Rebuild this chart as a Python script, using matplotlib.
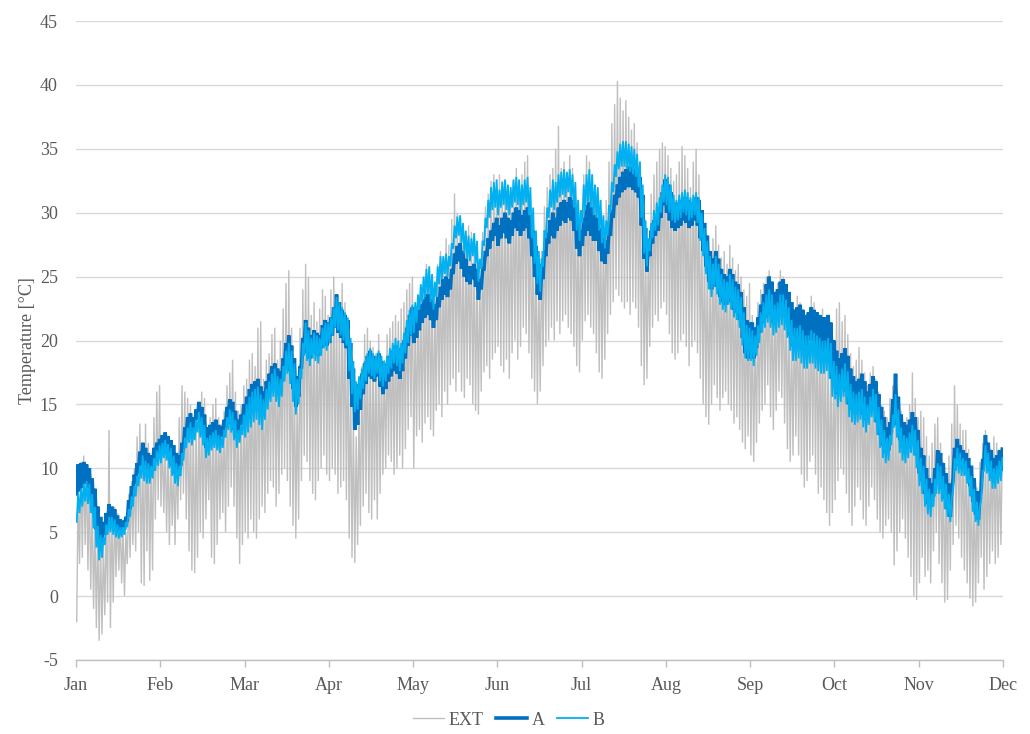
import numpy as np
import matplotlib
matplotlib.use("Agg")
import matplotlib.pyplot as plt

# Month labels along the time axis
months = ["Jan", "Feb", "Mar", "Apr", "May", "Jun",
          "Jul", "Aug", "Sep", "Oct", "Nov", "Dec"]
days_per_month = 30

# Outdoor air (EXT): daily minimum / maximum [°C], one row per month
ext_min = [
    -2.0, 2.5, 3.0, 4.0, 2.0, 0.5, -1.0, -2.5, -3.5, -3.0, -1.5, -0.5, -2.5, -0.5, 1.5, 2.0, 1.0, 0.0, 2.5, 3.0, 4.0, 3.5, 5.0, 1.0, 0.8, 3.5, 1.2, 2.0, 6.0, 7.5,
    7.0, 6.5, 5.0, 4.0, 5.5, 4.0, 6.0, 7.5, 8.0, 6.0, 3.5, 2.0, 1.8, 3.0, 5.0, 4.5, 6.0, 7.5, 3.0, 2.5, 4.0, 6.0, 6.5, 5.0, 7.0, 8.5, 7.0, 4.5, 2.5, 4.0,
    5.0, 4.5, 6.0, 5.0, 4.5, 6.0, 7.0, 6.5, 8.0, 9.0, 8.5, 7.0, 8.0, 9.5, 10.0, 9.0, 7.0, 5.5, 4.5, 6.0, 9.0, 11.0, 10.5, 9.0, 8.0, 7.5, 9.0, 10.0, 11.0, 9.5,
    9.0, 10.0, 9.5, 8.0, 8.5, 9.0, 7.5, 4.5, 3.0, 2.6, 4.0, 5.5, 7.0, 8.0, 6.5, 6.0, 7.5, 6.0, 8.0, 9.5, 10.0, 11.0, 10.5, 9.5, 10.0, 11.0, 10.0, 11.5, 13.0, 14.0,
    10.0, 12.5, 13.0, 12.0, 13.5, 14.0, 13.0, 12.5, 14.5, 15.0, 14.0, 16.0, 15.0, 16.5, 17.0, 16.0, 17.5, 16.0, 15.5, 17.0, 16.5, 15.0, 14.5, 14.2, 16.0, 17.5, 18.0, 17.0, 18.5, 19.0,
    19.5, 18.0, 17.5, 18.5, 17.0, 19.0, 20.0, 18.5, 19.5, 21.0, 20.5, 19.0, 17.0, 16.0, 15.0, 16.0, 18.0, 19.5, 20.0, 21.0, 20.0, 21.5, 20.5, 21.5, 22.0, 21.0, 20.5, 19.5, 18.0, 17.5,
    20.0, 21.5, 22.0, 21.0, 20.5, 19.0, 17.5, 17.0, 18.5, 20.5, 22.0, 23.0, 24.0, 23.5, 23.0, 22.5, 23.0, 22.0, 23.0, 22.5, 21.0, 18.0, 16.5, 17.0, 19.5, 21.0, 22.0, 21.5, 22.5, 23.0,
    22.0, 20.5, 19.0, 18.5, 19.0, 20.0, 20.5, 19.5, 18.0, 19.5, 20.0, 19.0, 17.0, 15.0, 14.0, 13.4, 15.0, 16.5, 15.5, 14.5, 15.5, 16.0, 15.0, 14.5, 13.5, 14.0, 13.0, 12.0, 11.5, 12.5,
    11.0, 10.5, 12.0, 13.5, 14.5, 15.0, 16.5, 14.0, 13.0, 14.5, 16.0, 15.5, 13.5, 11.5, 10.5, 11.0, 12.5, 11.0, 9.5, 8.5, 9.0, 10.5, 11.0, 9.5, 8.0, 8.5, 7.5, 6.5, 5.5, 6.5,
    7.5, 9.0, 10.0, 9.5, 8.0, 6.5, 5.5, 7.0, 8.5, 7.5, 6.0, 5.5, 7.0, 8.5, 7.5, 6.0, 5.0, 4.5, 5.5, 6.0, 5.0, 2.4, 3.5, 5.0, 6.0, 4.5, 3.0, 1.5, 0.0, -0.3,
    1.0, 3.0, 1.5, 2.0, 1.0, 3.5, 5.0, 2.5, 1.0, -0.5, -0.3, 2.0, 4.0, 5.5, 4.5, 3.0, 2.0, 1.0, -0.2, -0.8, -0.5, 1.0, 3.0, 0.5, 1.5, 2.5, 3.5, 2.5, 3.0, 4.0,
]
ext_max = [
    8.0, 10.5, 11.0, 10.0, 9.0, 7.5, 6.0, 5.5, 4.5, 4.0, 6.0, 13.0, 6.5, 7.0, 6.5, 6.0, 5.5, 5.0, 8.0, 9.0, 10.0, 12.5, 13.5, 12.0, 13.5, 12.0, 11.0, 14.0, 16.0, 16.5,
    12.5, 12.0, 11.5, 11.0, 10.5, 11.0, 14.0, 16.5, 16.0, 15.5, 15.0, 14.0, 13.5, 15.0, 16.0, 15.5, 13.0, 14.0, 15.0, 15.5, 14.0, 13.5, 14.5, 16.5, 17.5, 18.5, 16.0, 14.5, 15.0, 16.5,
    17.0, 18.5, 19.0, 18.0, 21.0, 21.5, 17.0, 18.5, 19.0, 20.5, 21.0, 18.5, 20.0, 22.5, 24.5, 25.5, 21.0, 17.5, 16.0, 21.0, 24.0, 26.0, 25.0, 22.0, 23.0, 21.5, 22.5, 24.0, 23.5, 22.0,
    24.0, 25.0, 23.5, 22.0, 24.5, 23.0, 21.0, 17.5, 14.0, 12.5, 15.0, 18.0, 20.5, 21.0, 20.0, 19.5, 19.0, 20.5, 18.0, 18.5, 20.5, 21.0, 21.5, 22.0, 21.5, 22.5, 23.0, 24.0, 24.5, 25.0,
    22.0, 23.5, 24.0, 25.0, 26.0, 25.5, 24.0, 23.0, 26.0, 27.0, 26.5, 28.0, 27.5, 29.5, 31.5, 30.0, 29.0, 27.5, 28.0, 29.0, 28.5, 27.0, 26.0, 25.0, 28.5, 30.5, 31.5, 32.5, 33.0, 32.0,
    33.0, 32.5, 31.5, 32.0, 31.0, 32.5, 33.5, 32.0, 33.0, 34.0, 34.5, 31.0, 28.5, 26.5, 25.0, 27.0, 30.5, 32.0, 33.0, 33.5, 35.0, 36.8, 33.5, 34.0, 33.0, 34.5, 33.5, 32.0, 30.0, 29.5,
    33.0, 34.5, 34.0, 33.0, 32.0, 31.5, 29.5, 29.0, 31.0, 34.0, 37.0, 38.5, 40.3, 39.0, 38.0, 38.8, 37.5, 36.5, 37.0, 35.5, 34.0, 31.0, 28.0, 27.5, 31.5, 33.0, 34.0, 35.0, 35.5, 35.2,
    34.5, 33.5, 32.5, 33.0, 34.0, 35.2, 34.5, 33.5, 32.0, 34.0, 35.0, 33.0, 30.0, 28.5, 27.0, 26.5, 28.0, 29.0, 27.5, 26.5, 27.0, 26.0, 27.5, 26.5, 25.5, 26.0, 25.0, 24.0, 23.5, 24.5,
    22.0, 21.0, 23.0, 24.0, 24.5, 25.0, 25.5, 24.0, 23.5, 24.5, 25.5, 25.0, 24.0, 22.5, 21.0, 22.5, 23.5, 23.0, 22.5, 21.0, 22.0, 23.5, 23.0, 22.0, 21.5, 22.5, 21.0, 20.0, 19.5, 18.0,
    22.5, 23.0, 21.5, 22.0, 20.5, 19.0, 18.0, 18.5, 19.5, 18.5, 17.5, 16.5, 17.5, 18.0, 17.0, 16.0, 15.0, 14.5, 14.0, 15.5, 16.5, 17.0, 15.0, 14.5, 13.5, 14.0, 15.0, 17.5, 15.5, 14.0,
    14.5, 14.0, 12.5, 11.0, 12.0, 13.5, 14.0, 12.0, 10.5, 9.5, 11.0, 13.5, 16.5, 15.0, 13.5, 13.0, 13.0, 11.5, 10.0, 9.0, 8.5, 10.5, 12.0, 13.0, 12.0, 11.5, 12.5, 12.0, 11.0, 11.5,
]

# Room A: daily minimum / maximum [°C]
a_min = [
    8.0, 8.2, 8.5, 8.8, 8.5, 7.6, 6.5, 5.2, 4.2, 4.0, 4.8, 5.5, 5.6, 5.4, 5.2, 5.0, 5.0, 5.2, 5.8, 6.8, 7.8, 8.8, 9.6, 10.2, 9.8, 9.6, 9.4, 9.8, 10.5, 10.8,
    11.2, 11.5, 11.3, 10.8, 10.2, 9.6, 9.4, 10.2, 11.5, 12.5, 12.8, 12.6, 13.0, 13.8, 13.2, 12.6, 11.6, 11.8, 12.2, 12.4, 12.2, 12.0, 12.5, 13.2, 13.8, 13.6, 13.0, 12.4, 12.8, 13.4,
    13.6, 14.0, 14.4, 14.8, 15.0, 14.6, 14.2, 15.0, 15.8, 16.4, 16.8, 16.4, 16.0, 16.8, 18.0, 18.6, 17.6, 16.2, 14.8, 15.6, 17.8, 19.6, 19.0, 18.6, 19.2, 19.0, 18.8, 19.4, 20.0, 19.6,
    19.8, 20.4, 21.0, 20.6, 20.2, 19.8, 19.4, 17.0, 14.8, 13.0, 13.4, 14.6, 15.8, 16.6, 17.2, 17.0, 16.8, 17.2, 16.4, 15.8, 16.2, 16.8, 17.2, 17.6, 17.4, 17.0, 17.6, 18.6, 19.6, 20.4,
    19.8, 20.2, 20.8, 21.4, 21.8, 22.0, 21.6, 21.0, 21.6, 22.6, 23.2, 23.6, 23.4, 24.0, 25.2, 26.0, 26.2, 25.6, 25.0, 24.6, 24.4, 24.8, 24.2, 23.2, 24.0, 25.6, 26.6, 27.2, 27.8, 28.2,
    27.4, 28.0, 28.4, 28.0, 27.6, 28.2, 28.8, 28.6, 28.2, 28.6, 28.8, 28.0, 26.6, 25.0, 23.6, 23.2, 24.8, 26.6, 27.6, 28.2, 28.0, 28.6, 29.0, 29.4, 29.2, 29.6, 29.4, 28.6, 27.2, 26.6,
    27.4, 28.2, 28.6, 28.2, 27.8, 27.8, 27.0, 26.2, 26.0, 26.8, 28.2, 29.6, 30.6, 31.2, 31.6, 31.8, 32.0, 32.0, 31.8, 31.6, 31.2, 29.0, 26.4, 25.4, 26.6, 27.6, 28.2, 28.6, 29.6, 30.6,
    30.0, 29.4, 28.8, 28.6, 28.8, 29.0, 29.4, 29.2, 28.8, 29.0, 29.4, 29.0, 28.0, 27.0, 25.8, 24.6, 24.0, 24.8, 24.2, 23.4, 23.0, 22.8, 23.4, 23.0, 22.4, 22.2, 21.6, 20.2, 19.0, 18.6,
    19.0, 18.6, 19.4, 20.6, 21.4, 21.8, 22.4, 22.0, 21.4, 21.6, 22.2, 22.4, 22.0, 21.4, 20.4, 19.6, 19.8, 20.2, 19.8, 19.4, 19.6, 20.0, 20.0, 19.6, 19.4, 19.0, 19.0, 19.2, 18.6, 17.0,
    16.4, 15.8, 16.2, 16.6, 16.0, 15.0, 14.6, 14.4, 14.6, 14.8, 14.2, 13.8, 14.4, 15.0, 14.6, 13.6, 12.6, 11.8, 11.2, 11.4, 12.8, 14.4, 13.4, 12.2, 11.6, 11.4, 11.8, 12.2, 12.0, 11.0,
    9.6, 9.0, 8.0, 7.2, 7.0, 7.8, 9.0, 9.0, 8.4, 7.6, 6.8, 6.2, 9.2, 10.6, 10.2, 10.0, 10.0, 9.6, 8.6, 7.4, 6.4, 6.0, 8.4, 10.6, 10.4, 9.8, 9.2, 9.2, 9.6, 9.8,
]
a_max = [
    10.3, 10.4, 10.5, 10.3, 10.0, 9.2, 8.4, 7.0, 6.2, 5.8, 6.5, 7.2, 7.0, 6.8, 6.3, 6.0, 5.9, 6.2, 7.5, 8.6, 9.5, 10.4, 11.3, 12.0, 11.6, 11.2, 11.0, 11.6, 12.0, 12.3,
    12.6, 12.8, 12.5, 12.2, 11.8, 11.2, 11.0, 12.0, 13.2, 14.0, 14.3, 14.0, 14.6, 15.2, 14.8, 14.2, 13.2, 13.4, 13.6, 13.8, 13.4, 13.3, 13.8, 14.8, 15.4, 15.2, 14.5, 13.8, 14.2, 15.0,
    15.6, 16.2, 16.6, 16.8, 17.0, 16.4, 16.0, 16.8, 17.4, 18.0, 18.2, 17.8, 17.6, 18.6, 19.8, 20.4, 19.6, 18.6, 17.2, 18.0, 20.2, 21.6, 21.0, 20.4, 20.8, 20.6, 20.4, 21.2, 21.6, 21.4,
    21.8, 22.6, 23.6, 23.0, 22.4, 22.0, 21.6, 19.8, 17.8, 16.0, 16.6, 17.4, 18.2, 18.8, 19.2, 18.8, 18.6, 19.0, 18.4, 17.8, 18.2, 18.8, 19.2, 19.6, 19.4, 19.2, 20.0, 21.0, 22.0, 22.6,
    22.0, 22.4, 22.8, 23.2, 23.6, 23.6, 23.2, 22.8, 23.4, 24.2, 24.8, 25.0, 24.8, 25.6, 26.8, 27.4, 27.6, 27.0, 26.4, 25.8, 25.8, 26.0, 25.6, 24.8, 25.6, 27.0, 28.0, 28.6, 29.2, 29.6,
    29.0, 29.6, 30.0, 29.6, 29.4, 30.0, 30.4, 30.2, 29.8, 30.2, 30.4, 29.8, 28.6, 27.4, 26.0, 25.4, 27.0, 28.4, 29.4, 30.0, 29.6, 30.4, 30.8, 31.0, 30.8, 31.2, 31.0, 30.4, 29.2, 28.6,
    29.6, 30.6, 30.8, 30.4, 29.8, 29.6, 28.8, 28.0, 27.8, 28.8, 30.2, 31.4, 32.2, 32.8, 33.2, 33.4, 33.6, 33.6, 33.4, 33.2, 32.8, 31.4, 28.8, 27.6, 28.6, 29.4, 29.8, 30.4, 31.6, 32.6,
    32.2, 31.6, 30.8, 30.4, 30.8, 31.0, 31.2, 31.0, 30.6, 30.8, 31.2, 31.0, 30.2, 29.2, 28.2, 27.0, 26.4, 27.0, 26.4, 25.6, 25.2, 25.0, 25.6, 25.2, 24.6, 24.4, 23.8, 22.6, 21.6, 21.4,
    21.4, 21.0, 21.8, 22.8, 23.6, 24.4, 25.0, 24.6, 23.8, 24.0, 24.6, 24.8, 24.4, 23.8, 23.0, 22.4, 22.6, 22.8, 22.4, 22.0, 22.2, 22.6, 22.4, 22.2, 22.0, 21.8, 21.8, 22.0, 21.4, 20.0,
    19.2, 18.6, 19.0, 19.4, 18.8, 17.8, 17.2, 16.8, 17.0, 17.4, 16.8, 16.0, 16.6, 17.2, 16.8, 15.8, 14.8, 14.0, 13.2, 13.6, 15.4, 17.4, 15.6, 14.2, 13.6, 13.4, 13.8, 14.4, 14.0, 13.0,
    11.6, 11.0, 10.0, 9.2, 8.8, 10.0, 11.4, 11.2, 10.4, 9.6, 8.8, 8.2, 11.6, 12.3, 11.8, 11.4, 11.2, 10.8, 10.2, 9.2, 8.2, 7.8, 10.6, 12.6, 12.0, 11.4, 10.8, 11.0, 11.4, 11.5,
]

# Room B: daily minimum / maximum [°C]
b_min = [
    5.8, 6.5, 7.0, 7.4, 7.2, 6.5, 5.3, 3.8, 2.8, 3.0, 4.0, 4.8, 5.0, 4.8, 4.6, 4.5, 4.6, 4.8, 5.4, 6.2, 7.0, 7.8, 8.6, 9.2, 9.0, 8.8, 8.8, 9.2, 9.8, 10.2,
    10.4, 10.8, 10.6, 10.0, 9.4, 8.8, 8.6, 9.4, 10.6, 11.6, 12.0, 11.8, 12.2, 12.8, 12.4, 11.8, 10.8, 11.0, 11.4, 11.6, 11.4, 11.2, 11.6, 12.4, 13.0, 12.8, 12.2, 11.6, 12.0, 12.6,
    12.4, 12.8, 13.2, 13.6, 13.8, 13.4, 13.0, 13.8, 14.6, 15.2, 15.6, 15.2, 14.8, 15.6, 16.8, 17.4, 16.6, 15.2, 14.2, 15.0, 17.0, 18.8, 18.4, 18.0, 18.6, 18.4, 18.2, 18.8, 19.4, 19.2,
    19.8, 20.4, 21.0, 20.8, 20.4, 20.0, 19.6, 17.6, 15.8, 14.4, 14.6, 15.4, 16.2, 16.8, 17.4, 17.2, 17.0, 17.4, 16.8, 16.4, 16.8, 17.4, 17.8, 18.2, 18.0, 17.6, 18.2, 19.0, 19.8, 20.4,
    20.6, 21.4, 22.4, 23.0, 23.4, 23.6, 23.0, 22.4, 23.4, 24.4, 24.8, 25.2, 25.0, 25.8, 27.2, 28.0, 28.2, 27.6, 26.8, 26.4, 26.2, 26.6, 26.0, 24.6, 25.6, 27.4, 28.8, 29.6, 30.2, 30.4,
    29.8, 30.4, 30.6, 30.2, 29.8, 30.4, 30.8, 30.6, 30.2, 30.6, 30.8, 29.8, 28.0, 26.0, 24.4, 23.8, 25.8, 28.0, 29.6, 30.4, 30.2, 30.8, 31.2, 31.4, 31.2, 31.6, 31.2, 30.4, 28.6, 27.8,
    29.2, 30.2, 30.8, 30.4, 29.8, 29.6, 28.6, 27.6, 27.2, 28.2, 30.0, 31.6, 32.8, 33.4, 33.6, 33.6, 33.4, 33.2, 33.0, 32.8, 32.0, 29.6, 26.8, 25.8, 27.0, 28.0, 28.6, 29.0, 30.0, 30.8,
    30.6, 30.0, 29.4, 29.2, 29.4, 29.6, 30.0, 29.8, 29.4, 29.6, 29.8, 29.2, 27.8, 26.6, 25.2, 24.0, 23.4, 24.2, 23.6, 22.8, 22.4, 22.2, 22.8, 22.4, 21.8, 21.6, 21.0, 19.6, 18.6, 18.4,
    18.4, 18.0, 18.8, 19.8, 20.6, 21.0, 21.4, 21.0, 20.4, 20.6, 21.0, 21.2, 20.8, 20.2, 19.2, 18.4, 18.4, 18.6, 18.2, 17.8, 17.8, 18.2, 18.2, 17.8, 17.6, 17.4, 17.4, 17.6, 17.0, 15.6,
    15.4, 14.8, 15.2, 15.6, 15.0, 14.0, 13.6, 13.4, 13.6, 13.8, 13.2, 12.8, 13.4, 14.0, 13.6, 12.6, 11.6, 10.8, 10.4, 10.6, 11.8, 13.2, 12.4, 11.2, 10.6, 10.4, 10.8, 11.2, 11.0, 10.0,
    8.6, 8.0, 7.0, 6.4, 6.2, 7.0, 8.0, 8.0, 7.4, 6.8, 6.2, 5.8, 8.4, 9.8, 9.6, 9.4, 9.4, 8.8, 7.8, 6.6, 5.8, 5.5, 7.6, 9.8, 9.6, 9.0, 8.4, 8.4, 8.8, 9.0,
]
b_max = [
    8.0, 8.4, 8.8, 9.0, 8.8, 8.0, 7.0, 5.5, 4.8, 4.6, 5.6, 6.2, 6.2, 6.0, 5.6, 5.4, 5.4, 5.8, 6.8, 7.8, 8.6, 9.4, 10.2, 11.0, 10.6, 10.4, 10.2, 10.8, 11.4, 11.8,
    12.0, 12.2, 11.9, 11.6, 11.0, 10.4, 10.2, 11.2, 12.4, 13.2, 13.6, 13.2, 13.8, 14.4, 14.0, 13.4, 12.4, 12.6, 12.8, 13.0, 12.6, 12.5, 13.0, 14.0, 14.6, 14.4, 13.8, 13.0, 13.4, 14.2,
    15.0, 15.6, 16.0, 16.2, 16.4, 15.8, 15.4, 16.2, 16.8, 17.4, 17.8, 17.2, 17.0, 18.0, 19.2, 19.8, 19.2, 18.2, 17.0, 17.8, 19.8, 21.4, 20.8, 20.2, 20.6, 20.4, 20.2, 21.0, 21.4, 21.4,
    21.8, 22.6, 23.4, 23.0, 22.6, 22.2, 21.8, 20.2, 18.4, 16.8, 17.2, 17.8, 18.4, 19.0, 19.4, 19.0, 18.8, 19.2, 18.8, 18.4, 18.8, 19.4, 19.8, 20.2, 20.0, 19.8, 20.6, 21.6, 22.4, 22.8,
    23.0, 23.6, 24.4, 25.0, 25.6, 25.8, 25.2, 24.6, 25.8, 26.6, 26.6, 26.8, 26.6, 27.6, 29.0, 29.7, 29.8, 29.2, 28.6, 28.2, 28.0, 28.4, 27.8, 26.4, 27.8, 29.6, 31.0, 32.0, 32.4, 32.6,
    31.8, 32.4, 32.6, 32.2, 32.0, 32.6, 32.8, 32.6, 32.2, 32.6, 32.8, 32.0, 30.4, 28.6, 27.0, 26.4, 28.6, 30.4, 31.8, 32.6, 32.4, 33.0, 33.2, 33.4, 33.2, 33.4, 33.0, 32.4, 31.0, 30.2,
    32.2, 33.0, 33.4, 33.0, 32.2, 32.0, 31.0, 29.8, 29.4, 30.6, 32.4, 33.8, 34.8, 35.4, 35.6, 35.6, 35.4, 35.2, 35.0, 34.6, 34.0, 32.2, 29.4, 28.0, 29.2, 30.2, 30.8, 31.2, 32.2, 33.0,
    32.8, 32.2, 31.4, 31.0, 31.4, 31.6, 31.8, 31.6, 31.2, 31.4, 31.6, 31.2, 30.0, 28.8, 27.8, 26.6, 26.0, 26.6, 26.0, 25.2, 24.8, 24.6, 25.2, 24.8, 24.2, 24.0, 23.4, 22.2, 21.2, 21.0,
    20.8, 20.4, 21.2, 22.2, 23.0, 23.6, 24.0, 23.6, 22.8, 23.0, 23.6, 23.6, 23.2, 22.6, 21.6, 21.0, 21.0, 21.2, 20.8, 20.4, 20.4, 20.8, 20.6, 20.4, 20.2, 20.0, 20.0, 20.2, 19.8, 18.4,
    18.0, 17.4, 17.8, 18.2, 17.6, 16.6, 16.0, 15.8, 16.0, 16.2, 15.6, 15.0, 15.6, 16.2, 15.8, 14.8, 13.8, 13.0, 12.4, 12.6, 14.2, 15.8, 14.6, 13.2, 12.6, 12.4, 12.8, 13.4, 13.0, 12.2,
    10.8, 10.2, 9.2, 8.4, 8.0, 9.2, 10.4, 10.2, 9.4, 8.8, 8.0, 7.6, 10.8, 11.6, 11.2, 10.8, 10.6, 10.0, 9.4, 8.4, 7.4, 7.0, 9.8, 11.8, 11.2, 10.6, 10.0, 10.2, 10.6, 10.8,
]

series_labels = ["EXT", "A", "B"]
series_colors = ["#BFBFBF", "#0070C0", "#00B0F0"]
series_widths = [1.0, 2.6, 1.3]

plt.rcParams["font.family"] = ["Liberation Serif", "DejaVu Serif"]
plt.rcParams["axes.unicode_minus"] = False
text_color = "#595959"
font_size = 13


def daily_trace(lo, hi):
    """Interleave daily minima and maxima into one trace, x in month units."""
    y = np.column_stack([lo, hi]).ravel()
    x = (np.arange(y.size) + 0.5) / (2 * days_per_month)
    return x, y


fig = plt.figure(figsize=(10.30, 7.34), dpi=100)
ax = fig.add_axes([76 / 1030, 74 / 734, 927 / 1030, 639 / 734])

pairs = [(ext_min, ext_max), (a_min, a_max), (b_min, b_max)]
for (lo, hi), lab, col, lw in zip(pairs, series_labels, series_colors, series_widths):
    x, y = daily_trace(lo, hi)
    ax.plot(x, y, color=col, lw=lw, label=lab, solid_joinstyle="miter")

ax.set_xlim(0, len(months) - 1)
ax.set_ylim(-5, 45)
ax.set_yticks(np.arange(-5, 46, 5))
ax.set_xticks(np.arange(len(months)))
ax.set_xticklabels(months)

ax.yaxis.grid(True, color="#D9D9D9", lw=1.0)
ax.set_axisbelow(True)
for side in ("left", "right", "top"):
    ax.spines[side].set_visible(False)
ax.spines["bottom"].set_color("#BFBFBF")
ax.spines["bottom"].set_linewidth(1.0)

ax.tick_params(axis="y", length=0, pad=13, labelsize=font_size, labelcolor=text_color)
ax.tick_params(axis="x", length=5, width=1, color="#BFBFBF", pad=7,
               labelsize=font_size, labelcolor=text_color)

ax.set_ylabel("Temperature [°C]", fontsize=font_size, color=text_color, labelpad=3)

handles, labels = ax.get_legend_handles_labels()
fig.legend(handles, labels, loc="center", bbox_to_anchor=(0.494, 0.019),
           ncol=3, frameon=False, fontsize=font_size, handlelength=1.7,
           handletextpad=0.25, columnspacing=0.7, labelcolor=text_color)

fig.savefig("out.png", dpi=100)
